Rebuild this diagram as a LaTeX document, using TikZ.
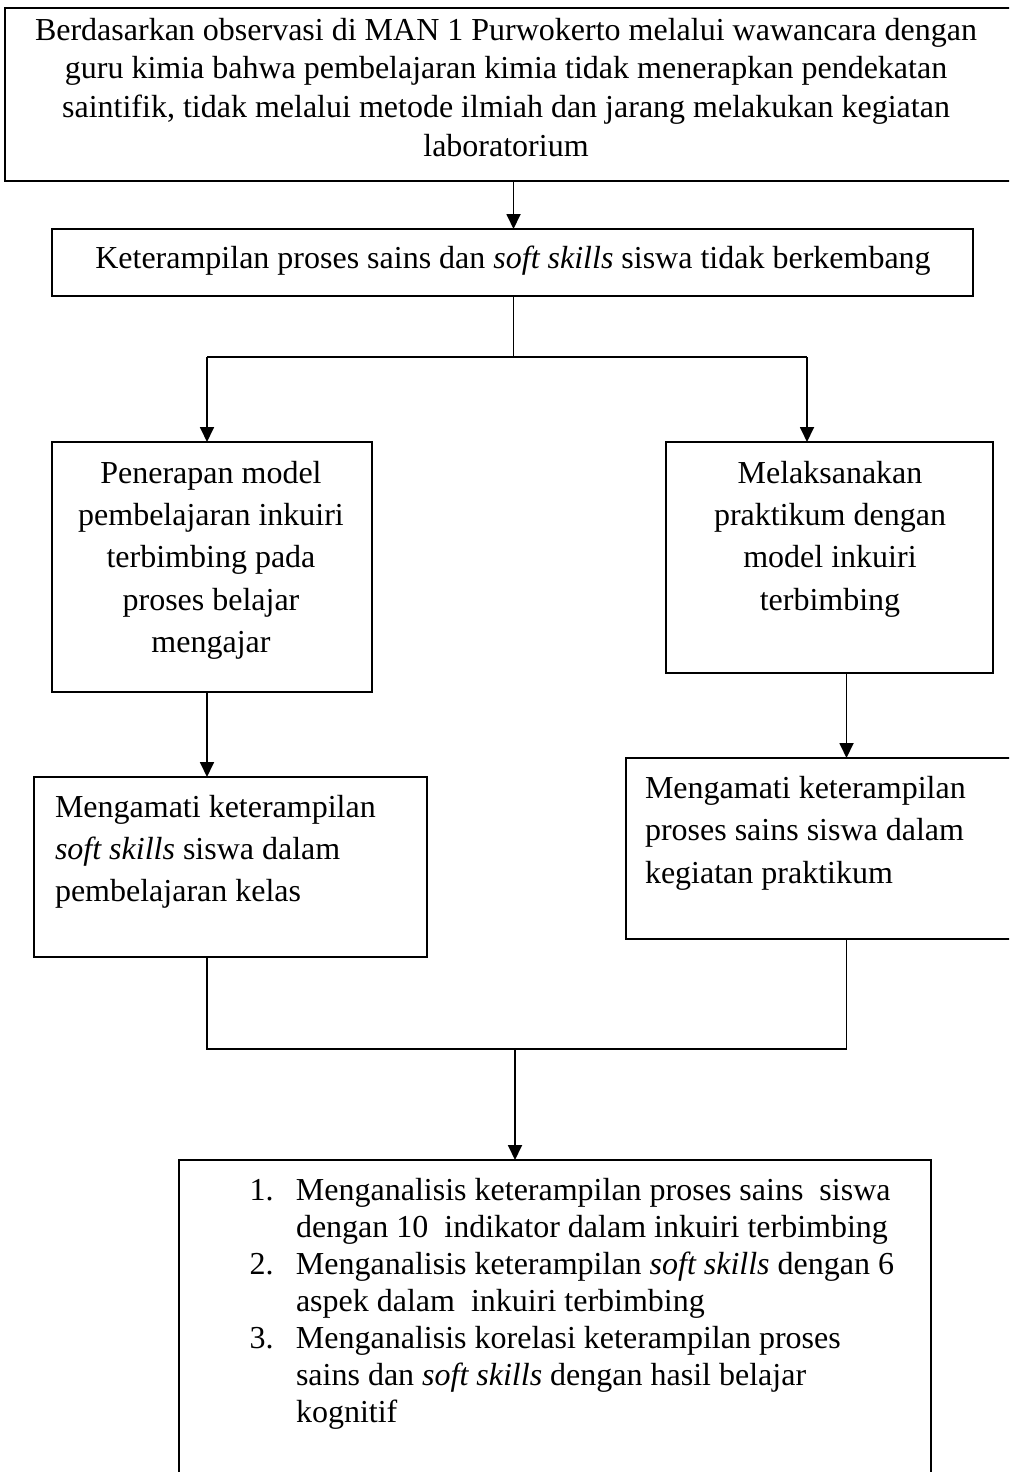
\documentclass[tikz,border=0pt]{standalone}
\usepackage{fontspec}
\setmainfont{Liberation Serif}
\usetikzlibrary{arrows.meta}
\begin{document}
\begin{tikzpicture}[x=1pt,y=-1pt,
  box/.style={draw=black,line width=2pt,rectangle,inner sep=0pt,outer sep=0pt,anchor=north west},
  txt/.style={inner sep=0pt,outer sep=0pt},
  wire/.style={draw=black,line width=1.8pt},
  arr/.style={wire,-{Triangle[length=15pt,width=14pt]}}]
\useasboundingbox[fill=white] (0,0) rectangle (1009,1472);
\begin{scope}
\clip (0,0) rectangle (1009,1472);
% boxes
\node[box,minimum width=1010pt,minimum height=173pt] (b1) at (5,8) {};
\node[box,minimum width=921pt,minimum height=67pt] (b2) at (52,229) {};
\node[box,minimum width=320.5pt,minimum height=250pt] (b3) at (51.5,442) {};
\node[box,minimum width=327pt,minimum height=231pt] (b4) at (666,442) {};
\node[box,minimum width=393.5pt,minimum height=180pt] (b5) at (33.5,777) {};
\node[box,minimum width=390pt,minimum height=181pt] (b6) at (625.5,758) {};
\node[box,minimum width=751.5pt,minimum height=330pt] (b7) at (179,1160) {};
\end{scope}
% texts
\node[txt,anchor=north,align=center,font=\fontsize{32}{38.7}\selectfont] (t1) at (506,18)
 {Berdasarkan observasi di MAN 1 Purwokerto melalui wawancara dengan\\
  guru kimia bahwa pembelajaran kimia tidak menerapkan pendekatan\\
  saintifik, tidak melalui metode ilmiah dan jarang melakukan kegiatan\\
  laboratorium};
\node[txt,anchor=base,font=\fontsize{32}{38}\selectfont] (t2) at (513,268)
 {Keterampilan proses sains dan \textit{soft skills} siswa tidak berkembang};
\node[txt,anchor=north,align=center,font=\fontsize{32}{42.3}\selectfont] (t3) at (211,461)
 {Penerapan model\\pembelajaran inkuiri\\terbimbing pada\\proses belajar\\mengajar};
\node[txt,anchor=north,align=center,font=\fontsize{32}{42.3}\selectfont] (t4) at (830,461)
 {Melaksanakan\\praktikum dengan\\model inkuiri\\terbimbing};
\node[txt,anchor=north west,align=left,font=\fontsize{32}{42.3}\selectfont] (t5) at (55,795)
 {Mengamati keterampilan\\\textit{soft skills} siswa dalam\\pembelajaran kelas};
\node[txt,anchor=north west,align=left,font=\fontsize{32}{42.5}\selectfont] (t6) at (645,776)
 {Mengamati keterampilan\\proses sains siswa dalam\\kegiatan praktikum};
\node[txt,anchor=north west,align=left,font=\fontsize{32}{37}\selectfont] (t7) at (249.5,1178)
 {\makebox[46.5pt][l]{1.}Menganalisis keterampilan proses sains\ \ siswa\\
  \hspace*{46.5pt}dengan 10\ \ indikator dalam inkuiri terbimbing\\
  \makebox[46.5pt][l]{2.}Menganalisis keterampilan \textit{soft skills} dengan 6\\
  \hspace*{46.5pt}aspek dalam\ \ inkuiri terbimbing\\
  \makebox[46.5pt][l]{3.}Menganalisis korelasi keterampilan proses\\
  \hspace*{46.5pt}sains dan \textit{soft skills} dengan hasil belajar\\
  \hspace*{46.5pt}kognitif};
% connectors
\coordinate (j1) at (513.5,357);
\coordinate (jl) at (207,357);
\coordinate (jr) at (807,357);
\coordinate (m1) at (207,1049);
\coordinate (m2) at (846.5,1049);
\coordinate (mc) at (515,1049);
\draw[arr] (j1 |- b1.south) -- (j1 |- b2.north);
\draw[wire] (j1 |- b2.south) -- (j1);
\draw[wire] (jl) -- (jr);
\draw[arr] (jl) -- (jl |- b3.north);
\draw[arr] (jr) -- (jr |- b4.north);
\draw[arr] (jl |- b3.south) -- (jl |- b5.north);
\draw[arr] (m2 |- b4.south) -- (m2 |- b6.north);
\draw[wire] (m1 |- b5.south) -- (m1) -- (m2) -- (m2 |- b6.south);
\draw[arr] (mc) -- (mc |- b7.north);
\end{tikzpicture}
\end{document}
